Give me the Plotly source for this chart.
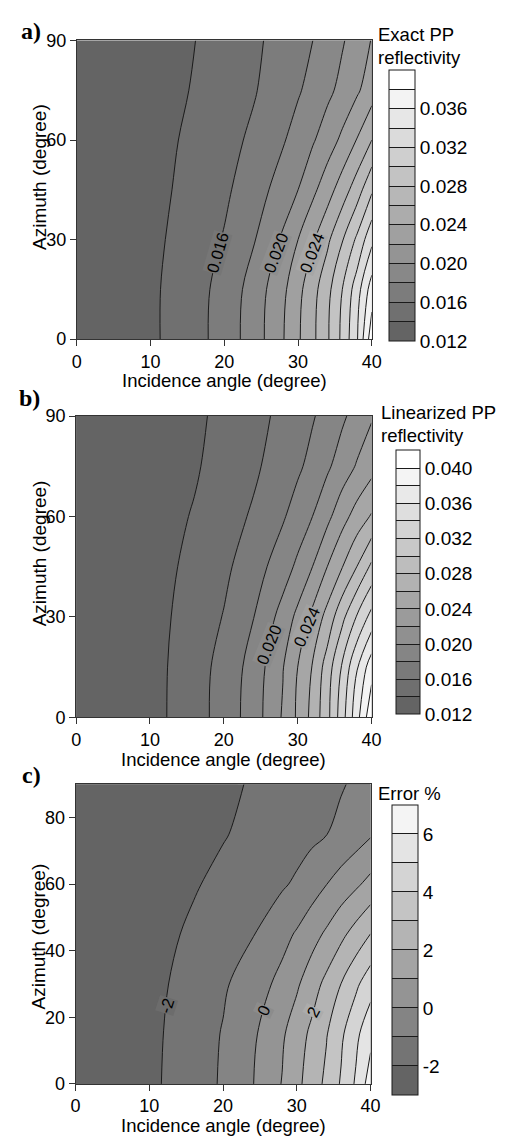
import plotly.graph_objects as go

# ---------------- data ----------------
theta = [0, 4, 8, 12, 16, 20, 24, 28, 30, 32, 34, 36, 38, 40]      # incidence angle (deg)
azimuth = [0, 15, 30, 45, 60, 75, 90]                                # azimuth (deg)

# a) exact PP reflectivity, rows = azimuth, cols = incidence angle
exact_pp = [
    [0.01270, 0.01286, 0.01334, 0.01414, 0.01526, 0.01689, 0.01894, 0.02192, 0.02373, 0.02555, 0.02776, 0.03046, 0.03382, 0.03920],
    [0.01270, 0.01286, 0.01333, 0.01413, 0.01523, 0.01674, 0.01879, 0.02160, 0.02343, 0.02527, 0.02741, 0.03000, 0.03308, 0.03700],
    [0.01270, 0.01284, 0.01328, 0.01400, 0.01500, 0.01613, 0.01787, 0.02033, 0.02200, 0.02374, 0.02562, 0.02788, 0.03038, 0.03350],
    [0.01270, 0.01282, 0.01319, 0.01379, 0.01472, 0.01566, 0.01704, 0.01892, 0.02000, 0.02154, 0.02317, 0.02500, 0.02705, 0.02970],
    [0.01270, 0.01281, 0.01312, 0.01365, 0.01444, 0.01533, 0.01637, 0.01785, 0.01880, 0.01980, 0.02103, 0.02242, 0.02410, 0.02600],
    [0.01270, 0.01279, 0.01305, 0.01349, 0.01413, 0.01499, 0.01585, 0.01712, 0.01780, 0.01864, 0.01955, 0.02057, 0.02171, 0.02310],
    [0.01270, 0.01278, 0.01302, 0.01342, 0.01398, 0.01480, 0.01564, 0.01673, 0.01737, 0.01800, 0.01891, 0.01982, 0.02091, 0.02210],
]

# b) linearized PP reflectivity
linear_pp = [
    [0.01240, 0.01257, 0.01307, 0.01391, 0.01521, 0.01676, 0.01897, 0.02221, 0.02433, 0.02663, 0.02938, 0.03311, 0.03725, 0.04150],
    [0.01240, 0.01257, 0.01306, 0.01388, 0.01515, 0.01665, 0.01876, 0.02191, 0.02400, 0.02613, 0.02892, 0.03220, 0.03583, 0.03920],
    [0.01240, 0.01255, 0.01300, 0.01376, 0.01487, 0.01609, 0.01795, 0.02075, 0.02250, 0.02450, 0.02667, 0.02943, 0.03213, 0.03470],
    [0.01240, 0.01253, 0.01294, 0.01362, 0.01449, 0.01559, 0.01706, 0.01909, 0.02040, 0.02200, 0.02400, 0.02590, 0.02800, 0.03040],
    [0.01240, 0.01252, 0.01288, 0.01347, 0.01413, 0.01514, 0.01624, 0.01780, 0.01886, 0.02000, 0.02148, 0.02324, 0.02480, 0.02620],
    [0.01240, 0.01251, 0.01280, 0.01325, 0.01380, 0.01470, 0.01566, 0.01695, 0.01767, 0.01859, 0.01968, 0.02090, 0.02217, 0.02330],
    [0.01240, 0.01250, 0.01280, 0.01325, 0.01372, 0.01435, 0.01538, 0.01645, 0.01714, 0.01783, 0.01871, 0.01967, 0.02070, 0.02180],
]

# c) error %
error_pct = [
    [-2.50, -2.45, -2.30, -1.97, -1.50, -0.875, -0.04, 1.04, 1.75, 2.46, 3.22, 4.10, 5.13, 6.50],
    [-2.50, -2.45, -2.30, -1.99, -1.50, -0.94, -0.17, 0.86, 1.52, 2.21, 2.93, 3.82, 4.76, 5.70],
    [-2.50, -2.46, -2.32, -2.07, -1.61, -1.13, -0.51, 0.29, 0.86, 1.54, 2.26, 3.01, 3.80, 4.60],
    [-2.50, -2.47, -2.36, -2.17, -1.86, -1.45, -1.05, -0.31, 0.10, 0.62, 1.15, 1.76, 2.38, 3.01],
    [-2.50, -2.48, -2.40, -2.25, -2.07, -1.80, -1.52, -1.12, -0.85, -0.46, -0.02, 0.42, 0.83, 1.30],
    [-2.50, -2.48, -2.43, -2.33, -2.20, -2.05, -1.80, -1.55, -1.40, -1.22, -1.02, -0.78, -0.46, -0.10],
    [-2.50, -2.49, -2.45, -2.38, -2.27, -2.12, -1.95, -1.65, -1.51, -1.36, -1.21, -1.07, -0.87, -0.60],
]

x_ticks = [0, 10, 20, 30, 40]
y_ticks_ab = [0, 30, 60, 90]
y_ticks_c = [0, 20, 40, 60, 80]

# colorbar tick labels
cb_labels_a = [0.012, 0.016, 0.020, 0.024, 0.028, 0.032, 0.036]
cb_labels_b = [0.012, 0.016, 0.020, 0.024, 0.028, 0.032, 0.036, 0.040]
cb_labels_c = [-2, 0, 2, 4, 6]

# contour levels carrying an in-plot label, and the azimuth where the label sits
clabel_levels_a = [0.016, 0.020, 0.024]
clabel_azim_a = [26, 26, 26]
clabel_levels_b = [0.020, 0.024]
clabel_azim_b = [21.5, 27]
clabel_levels_c = [-2, 0, 2]
clabel_azim_c = [23.5, 22, 21.5]

cb_title_a = ["Exact PP", "reflectivity"]
cb_title_b = ["Linearized PP", "reflectivity"]
cb_title_c = ["Error %"]
panel_letters = ["a)", "b)", "c)"]
x_title = "Incidence angle (degree)"
y_title = "Azimuth (degree)"

# ---------------- styling ----------------
W, H = 508, 1144
FONT = "Liberation Sans, Arial, sans-serif"
LINE = "#1a1a1a"


def px_x(p):
    return p / W


def px_y(p):
    return 1 - p / H


def gray(v):
    v = int(round(v))
    return f"rgb({v},{v},{v})"


def row_at(z, phi):
    for i in range(len(azimuth) - 1):
        a0, a1 = azimuth[i], azimuth[i + 1]
        if a0 <= phi <= a1:
            t = (phi - a0) / (a1 - a0)
            return [z[i][j] * (1 - t) + z[i + 1][j] * t for j in range(len(theta))]
    return z[-1]


def crossing(row, level):
    for j in range(len(row) - 1):
        if (row[j] - level) * (row[j + 1] - level) <= 0 and row[j] != row[j + 1]:
            t = (level - row[j]) / (row[j + 1] - row[j])
            return theta[j] + t * (theta[j + 1] - theta[j])
    return None


panels = [
    dict(z=exact_pp, xdom=(74, 378), ydom=(31, 335), yticks=y_ticks_ab,
         fill=(0.014, 0.038, 0.002), cbrange=(0.012, 0.040, 0.002), cblabels=cb_labels_a,
         lines=(0.014, 0.038, 0.002), clev=clabel_levels_a, cazim=clabel_azim_a, cang=[-74, -69, -69],
         cb=(396, 61, 332.3, 25.7), g=(100, 255), fmt="{:.3f}",
         title=cb_title_a, tpos=(382, 25), letter=(27, 21), ytitle_y=170, xtitle_y=377.5),
    dict(z=linear_pp, xdom=(73.3, 377.7), ydom=(413.3, 720), yticks=y_ticks_ab,
         fill=(0.014, 0.040, 0.002), cbrange=(0.012, 0.042, 0.002), cblabels=cb_labels_b,
         lines=(0.014, 0.040, 0.002), clev=clabel_levels_b, cazim=clabel_azim_b, cang=[-68, -66],
         cb=(403.3, 448.3, 712.3, 24), g=(100, 255), fmt="{:.3f}",
         title=cb_title_b, tpos=(385, 410), letter=(25, 395), ytitle_y=553, xtitle_y=762.5),
    dict(z=error_pct, xdom=(72.7, 376.7), ydom=(788, 1093), yticks=y_ticks_c,
         fill=(-2, 6, 1), cbrange=(-3, 7, 1), cblabels=cb_labels_c,
         lines=(-2, 6, 1), clev=clabel_levels_c, cazim=clabel_azim_c, cang=[-72, -65, -62],
         cb=(398.3, 809, 1099.3, 25.7), g=(100, 244), fmt="{:d}",
         title=cb_title_c, tpos=(382, 797), letter=(27, 779), ytitle_y=943, xtitle_y=1135),
]

fig = go.Figure()
annotations = []
layout = {}

for i, p in enumerate(panels):
    ax = "" if i == 0 else str(i + 1)
    xa, ya = "x" + ax, "y" + ax
    g0, g1 = p["g"]

    # colorbar carrier (heatmap hidden beneath the filled contours)
    lo, hi, st = p["cbrange"]
    nb = int(round((hi - lo) / st))
    cols = [gray(g0 + (g1 - g0) * k / (nb - 1)) for k in range(nb)]
    cscale = []
    for k in range(nb):
        cscale.append([k / nb, cols[k]])
        cscale.append([(k + 1) / nb, cols[k]])
    tickvals = [round(lo + k * st, 4) for k in range(nb + 1)]
    labset = [round(v, 4) for v in p["cblabels"]]
    ticktext = []
    for v in tickvals:
        if any(abs(v - l) < 1e-9 for l in labset):
            ticktext.append(p["fmt"].format(int(round(v))) if p["fmt"] == "{:d}" else p["fmt"].format(v))
        else:
            ticktext.append("")
    cl, ct, cbot, cth = p["cb"]
    fig.add_trace(go.Heatmap(
        x=theta, y=azimuth, z=p["z"], xaxis=xa, yaxis=ya,
        zmin=lo, zmax=hi, colorscale=cscale, hoverinfo="skip",
        colorbar=dict(x=px_x(cl), xanchor="left", xpad=0, xref="paper",
                      y=px_y(ct), yanchor="top", ypad=0, yref="paper",
                      len=cbot - ct, lenmode="pixels", thickness=cth, thicknessmode="pixels",
                      outlinewidth=1, outlinecolor=LINE, borderwidth=0,
                      tickmode="array", tickvals=tickvals, ticktext=ticktext,
                      ticks="inside", ticklen=cth, tickcolor=LINE, tickwidth=1,
                      tickfont=dict(family=FONT, size=19, color="black")),
    ))

    # filled contour bands
    fs, fe, fz = p["fill"]
    fig.add_trace(go.Contour(
        x=theta, y=azimuth, z=p["z"], xaxis=xa, yaxis=ya,
        autocontour=False, contours=dict(start=fs, end=fe, size=fz, coloring="fill", showlines=False),
        colorscale=[[0, gray(g0)], [1, gray(g1)]], showscale=False,
        line=dict(width=0, smoothing=1), hoverinfo="skip",
    ))
    # contour lines
    s, e, z = p["lines"]
    fig.add_trace(go.Contour(
        x=theta, y=azimuth, z=p["z"], xaxis=xa, yaxis=ya,
        autocontour=False, contours=dict(start=s, end=e, size=z, coloring="none"),
        line=dict(width=1, color=LINE, smoothing=1), showscale=False, hoverinfo="skip",
    ))

    # in-plot contour labels, placed where the level crosses the chosen azimuth
    for lev, phi, ang in zip(p["clev"], p["cazim"], p["cang"]):
        th = crossing(row_at(p["z"], phi), lev)
        if th is None:
            continue
        k = int(round((lev - lo) / st))
        v_mid = g0 + (g1 - g0) * (k - 0.5) / (nb - 1)
        txt = p["fmt"].format(int(round(lev))) if p["fmt"] == "{:d}" else p["fmt"].format(lev)
        annotations.append(dict(text=txt, x=th, y=phi, xref=xa, yref=ya, showarrow=False,
                                xanchor="center", yanchor="middle", textangle=ang,
                                bgcolor=gray(v_mid), borderpad=0,
                                font=dict(family=FONT, size=16.5, color="black")))

    axis_common = dict(showgrid=False, zeroline=False, showline=True, linecolor="#333333", linewidth=1,
                       mirror=True, ticks="outside", ticklen=6, tickwidth=1, tickcolor="#333333",
                       tickfont=dict(family=FONT, size=18, color="black"))
    layout["xaxis" + ax] = dict(axis_common, domain=[px_x(p["xdom"][0]), px_x(p["xdom"][1])],
                                range=[0, 40], tickmode="array", tickvals=x_ticks, anchor=ya)
    layout["yaxis" + ax] = dict(axis_common, domain=[px_y(p["ydom"][1]), px_y(p["ydom"][0])],
                                range=[0, 90], tickmode="array", tickvals=p["yticks"], anchor=xa)

    # texts
    cx = (p["xdom"][0] + p["xdom"][1]) / 2
    annotations.append(dict(text=x_title, x=px_x(cx), y=px_y(p["xtitle_y"]), xref="paper", yref="paper",
                            showarrow=False, xanchor="center", yanchor="middle",
                            font=dict(family=FONT, size=18.5, color="black")))
    annotations.append(dict(text=y_title, x=px_x(35), y=px_y(p["ytitle_y"]), xref="paper", yref="paper",
                            showarrow=False, xanchor="center", yanchor="middle", textangle=-90,
                            font=dict(family=FONT, size=19, color="black")))
    annotations.append(dict(text="<b>" + panel_letters[i] + "</b>", x=px_x(p["letter"][0]), y=px_y(p["letter"][1]),
                            xref="paper", yref="paper", showarrow=False, xanchor="center", yanchor="middle",
                            font=dict(family="Liberation Serif, Times New Roman, serif", size=24, color="black")))
    tx, ty = p["tpos"]
    for j, line in enumerate(p["title"]):
        annotations.append(dict(text=line, x=px_x(tx), y=px_y(ty + 23 * j), xref="paper", yref="paper",
                                showarrow=False, xanchor="left", yanchor="middle",
                                font=dict(family=FONT, size=18.5, color="black")))

fig.update_layout(
    width=W, height=H, margin=dict(l=0, r=0, t=0, b=0),
    paper_bgcolor="white", plot_bgcolor="white", showlegend=False,
    annotations=annotations, **layout,
)

fig.write_html("out.html", config={"displayModeBar": False},
               post_script="document.body.style.margin='0';document.body.style.padding='0';"
                           "document.documentElement.style.overflow='hidden';")
